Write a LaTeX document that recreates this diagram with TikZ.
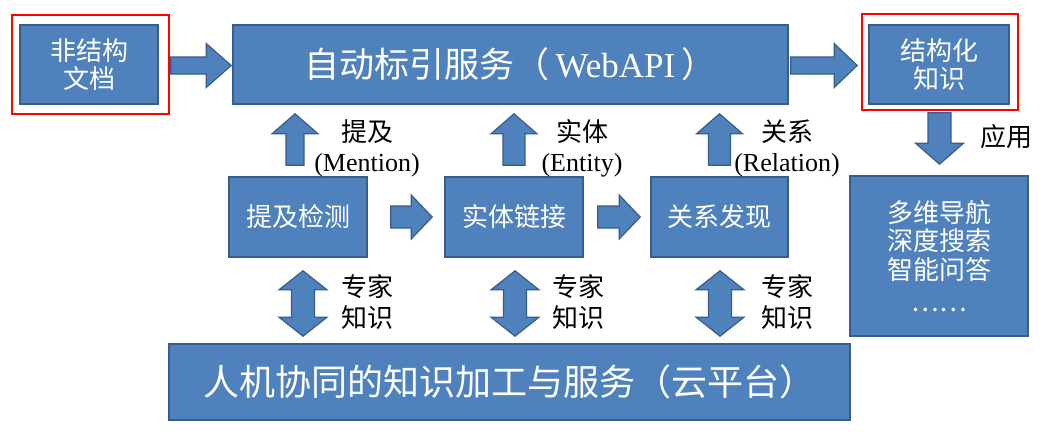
\documentclass[tikz,border=0pt]{standalone}
\usepackage{fontspec}
\setmainfont{Liberation Serif}
\newfontfamily\cjk{Noto Sans CJK SC}
\usetikzlibrary{calc}
\definecolor{boxfill}{HTML}{4F81BD}
\definecolor{boxline}{HTML}{385D8A}
\definecolor{frred}{HTML}{FF0000}
\tikzset{
  box/.style={draw=boxline, line width=1.6pt, fill=boxfill, text=white, align=center,
    inner sep=0pt, font=\cjk\fontsize{26}{28.5}\selectfont},
  bigbox/.style={box, font=\cjk\fontsize{35}{40}\selectfont},
  barrow/.style={draw=boxline, line width=1.2pt, fill=boxfill, line join=miter},
  lbl/.style={align=center, inner sep=0pt, text=black, font=\fontsize{26}{30}\selectfont},
  redframe/.style={draw=frred, line width=1.5pt}
}
% single block arrow: #1 start, #2 tip, #3 shaft half width, #4 head half width, #5 head length
\newcommand\blockarrow[5]{%
  \coordinate (bkS) at (#1);
  \coordinate (bkT) at (#2);
  \coordinate (bkH) at ($(bkT)!#5!(bkS)$);
  \draw[barrow] ($(bkS)!#3!90:(bkT)$) -- ($(bkH)!#3!90:(bkT)$) -- ($(bkH)!#4!90:(bkT)$)
    -- (bkT) -- ($(bkH)!#4!-90:(bkT)$) -- ($(bkH)!#3!-90:(bkT)$) -- ($(bkS)!#3!-90:(bkT)$) -- cycle;
}
% double block arrow: #1 tip, #2 tip, #3 shaft half width, #4 head half width, #5 head length
\newcommand\dblockarrow[5]{%
  \coordinate (bkA) at (#1);
  \coordinate (bkB) at (#2);
  \coordinate (bkP) at ($(bkA)!#5!(bkB)$);
  \coordinate (bkQ) at ($(bkB)!#5!(bkA)$);
  \draw[barrow] (bkA) -- ($(bkP)!#4!90:(bkB)$) -- ($(bkP)!#3!90:(bkB)$) -- ($(bkQ)!#3!-90:(bkA)$)
    -- ($(bkQ)!#4!-90:(bkA)$) -- (bkB) -- ($(bkQ)!#4!90:(bkA)$) -- ($(bkQ)!#3!90:(bkA)$)
    -- ($(bkP)!#3!-90:(bkB)$) -- ($(bkP)!#4!-90:(bkB)$) -- cycle;
}
\begin{document}
\begin{tikzpicture}[x=1pt,y=-1pt]
\useasboundingbox (0,0) rectangle (1054,432);
\fill[white] (0,0) rectangle (1054,432);

% top row
\node[box, minimum width=138pt, minimum height=79pt] (doc) at (89,64.5) {非结构\\文档};
\node[bigbox, minimum width=555pt, minimum height=79pt] (idx) at (510.5,64.5)
  {自动标引服务（{\rmfamily\,WebAPI\,}）};
\node[box, minimum width=140pt, minimum height=79pt] (struct) at (939,64.5) {结构化\\知识};

\draw[redframe] ($(doc.north west)+(-7,-9)$) rectangle ($(doc.south east)+(10,9)$);
\draw[redframe] ($(struct.north west)+(-6,-10)$) rectangle ($(struct.south east)+(8,5)$);

% middle row
\node[box, minimum width=138pt, minimum height=80pt] (det) at (298,217) {提及检测};
\node[box, minimum width=138pt, minimum height=80pt] (ent) at (514,217) {实体链接};
\node[box, minimum width=137pt, minimum height=80pt] (rel) at (719.5,217) {关系发现};

% application box
\node[box, minimum width=178pt, minimum height=160pt] (app) at (939,256)
  {多维导航\\深度搜索\\智能问答\\[4pt]……};

% bottom platform
\node[bigbox, font=\cjk\fontsize{36}{40}\selectfont, minimum width=681pt, minimum height=76pt] (cloud) at (509.5,382)
  {人机协同的知识加工与服务（云平台）};

% horizontal block arrows
\blockarrow{$(doc.east)+(12,1)$}{$(idx.west)+(-1,1)$}{8.5pt}{22pt}{25pt}
\blockarrow{$(idx.east)+(2,1)$}{$(struct.west)+(-11,1)$}{8.5pt}{22pt}{23pt}
\blockarrow{$(det.east)+(23,0)$}{$(ent.west)+(-12,0)$}{11pt}{22pt}{21pt}
\blockarrow{$(ent.east)+(14,0)$}{$(rel.west)+(-10,0)$}{11pt}{22pt}{21pt}

% up arrows
\blockarrow{$(det.north)+(-3,-11)$}{$(det.north |- idx.south)+(-3,9)$}{9pt}{23pt}{20pt}
\blockarrow{$(ent.north)+(0,-11)$}{$(ent.north |- idx.south)+(0,9)$}{11pt}{23pt}{20pt}
\blockarrow{$(rel.north)+(0,-11)$}{$(rel.north |- idx.south)+(0,9)$}{11pt}{23pt}{20pt}

% down arrow to application
\blockarrow{$(struct.south)+(0.5,8)$}{$(struct.south |- app.north)+(0.5,-11)$}{11.5pt}{24pt}{21pt}

% double arrows
\dblockarrow{$(det.south)+(5,13)$}{$(det.south |- cloud.north)+(5,-7)$}{11.5pt}{24pt}{19pt}
\dblockarrow{$(ent.south)+(1,13)$}{$(ent.south |- cloud.north)+(1,-7)$}{11.5pt}{24pt}{19pt}
\dblockarrow{$(rel.south)+(0.5,13)$}{$(rel.south |- cloud.north)+(0.5,-7)$}{11.5pt}{24pt}{19pt}

% labels
\node[lbl] (lm) at (367,148) {{\cjk 提及}\\(Mention)};
\node[lbl] (le) at (582,148) {{\cjk 实体}\\(Entity)};
\node[lbl] (lr) at (787,148) {{\cjk 关系}\\(Relation)};
\node[lbl, font=\cjk\fontsize{26}{31}\selectfont] (k1) at (367,302.5) {专家\\知识};
\node[lbl, font=\cjk\fontsize{26}{31}\selectfont] (k2) at (578,302.5) {专家\\知识};
\node[lbl, font=\cjk\fontsize{26}{31}\selectfont] (k3) at (787,302.5) {专家\\知识};
\node[lbl, font=\cjk\fontsize{26}{31}\selectfont] (use) at (1006,137) {应用};
\end{tikzpicture}
\end{document}
